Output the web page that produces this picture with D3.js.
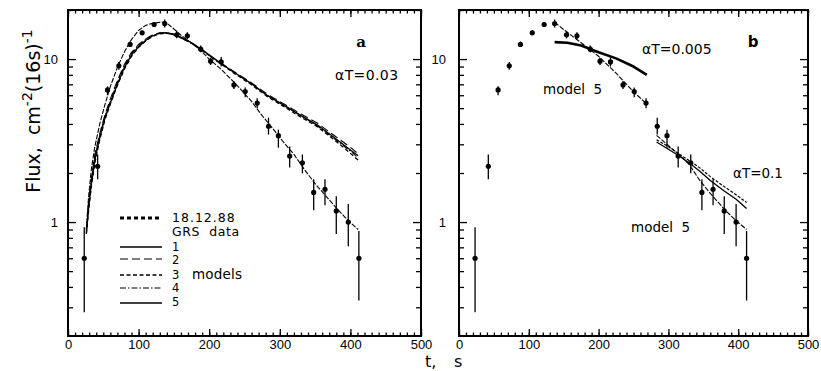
<!DOCTYPE html>
<html><head><meta charset="utf-8">
<script src="https://cdn.jsdelivr.net/npm/d3@7"></script>
<style>
html,body{margin:0;padding:0;background:#fff;}
svg{display:block;}
text{fill:#000;}
</style></head>
<body>
<svg id="chart" width="821" height="371"></svg>
<script>
// ---------- DATA ----------
// 18.12.88 GRS data (time, s ; flux, cm^-2 (16 s)^-1)
const dataT    = [23, 42, 56, 72, 88, 105, 122, 137, 154, 169, 188, 202, 217, 235, 251, 268, 284, 298, 314, 332, 348, 364, 380, 397, 412];
const dataFlux = [0.60, 2.2, 6.47, 9.1, 12.3, 14.5, 16.3, 16.5, 14.1, 13.9, 11.5, 9.7, 9.6, 6.94, 6.32, 5.37, 3.87, 3.39, 2.54, 2.31, 1.52, 1.59, 1.17, 1.0, 0.60];
const dataLo   = [0.28, 1.83, 6.0, 8.6, 11.9, 14.0, 15.8, 15.6, 13.4, 13.2, 11.0, 9.2, 9.0, 6.55, 5.84, 5.0, 3.44, 2.86, 2.16, 1.99, 1.18, 1.27, 0.845, 0.71, 0.33];
const dataHi   = [0.93, 2.6, 6.8, 9.6, 12.8, 15.0, 16.8, 17.5, 14.9, 14.6, 12.1, 10.2, 10.3, 7.34, 6.7, 5.75, 4.37, 3.69, 2.91, 2.60, 1.83, 1.83, 1.44, 1.29, 0.88];

// panel a: models 1-4 (alpha T = 0.03)
const modelT   = [26, 29, 33, 38, 45, 52, 60, 70, 80, 90, 100, 110, 120, 130, 140, 150, 160, 175, 190, 211, 235, 259, 282, 306, 330, 353, 377, 401, 411];
const model1   = [0.85, 1.2, 1.7, 2.4, 3.3, 4.3, 5.4, 7.0, 8.9, 10.6, 11.9, 13.0, 13.9, 14.4, 14.5, 14.2, 13.6, 12.6, 11.4, 9.8, 8.3, 7.1, 6.0, 5.2, 4.5, 3.95, 3.3, 2.75, 2.55];
const model2   = [0.9, 1.3, 1.85, 2.6, 3.5, 4.5, 5.7, 7.4, 9.3, 11.0, 12.3, 13.3, 14.1, 14.5, 14.5, 14.2, 13.6, 12.6, 11.4, 9.8, 8.4, 7.2, 6.1, 5.3, 4.6, 4.05, 3.4, 2.85, 2.62];
const model3   = [0.85, 1.15, 1.65, 2.3, 3.2, 4.2, 5.3, 6.9, 8.7, 10.4, 11.8, 12.9, 13.8, 14.3, 14.4, 14.1, 13.5, 12.5, 11.3, 9.7, 8.2, 7.0, 5.9, 5.1, 4.4, 3.85, 3.2, 2.62, 2.4];
const model4   = [0.88, 1.25, 1.8, 2.5, 3.4, 4.4, 5.5, 7.2, 9.1, 10.8, 12.1, 13.2, 14.0, 14.4, 14.4, 14.1, 13.5, 12.5, 11.3, 9.7, 8.3, 7.1, 6.0, 5.2, 4.5, 3.9, 3.25, 2.7, 2.48];
// panel a: model 5
const model5T  = [26, 29, 33, 38, 45, 52, 60, 70, 80, 90, 100, 110, 120, 130, 138, 150, 160, 170, 185, 200, 215, 230, 245, 260, 275, 290, 305, 320, 335, 350, 365, 380, 395, 411];
const model5   = [0.9, 1.4, 2.1, 2.9, 4.0, 5.2, 6.8, 8.9, 11.1, 13.2, 15.0, 16.1, 16.6, 16.8, 16.9, 15.3, 14.0, 13.0, 11.6, 10.0, 8.8, 7.6, 6.5, 5.5, 4.5, 3.75, 3.1, 2.6, 2.1, 1.72, 1.45, 1.22, 1.04, 0.9];

// panel b: first fit segment
const seg1T      = [137, 155, 175, 200, 225, 250, 269];
const seg1Alpha  = [12.7, 12.6, 12.1, 11.0, 10.1, 9.0, 8.0];      // alpha T = 0.005
const seg1Model5 = [16.8, 14.6, 12.6, 10.4, 8.2, 6.3, 5.3];
// panel b: second fit segment
const seg2T      = [283, 300, 315, 330, 345, 360, 380, 397, 412];
const seg2AlphaA = [3.1, 2.8, 2.55, 2.3, 2.05, 1.8, 1.55, 1.38, 1.21]; // alpha T = 0.1
const seg2AlphaB = [3.2, 2.9, 2.62, 2.38, 2.15, 1.9, 1.65, 1.47, 1.32];
const seg2Model5 = [3.4, 2.95, 2.6, 2.25, 1.8, 1.5, 1.2, 1.02, 0.9];

const xMajor = [0, 100, 200, 300, 400, 500];
const xMinor = d3.range(0, 501, 10);
const yMajor = [1, 10];
const yMinor = [0.3, 0.4, 0.5, 0.6, 0.7, 0.8, 0.9, 2, 3, 4, 5, 6, 7, 8, 9, 20];

// ---------- DRAW ----------
const svg = d3.select("#chart");
const FONT = "'DejaVu Sans', sans-serif";
const TFONT = "'Liberation Sans', Arial, sans-serif";

function makePanel(x0, x1, labelPad) {
  const x = d3.scaleLinear().domain([0, 500]).range([x0, x1]);
  const y = d3.scaleLog().domain([0.2, 20]).range([336, 10]);
  const g = svg.append("g");
  const yb = y(0.2), yt = y(20);

  function ax(axis, tx, ty) {
    const a = g.append("g").attr("transform", `translate(${tx},${ty})`).call(axis);
    a.select(".domain").remove();
    a.selectAll("line").attr("stroke", "#000").attr("stroke-width", 1.3);
    a.selectAll("text").attr("font-family", TFONT).attr("font-size", 13).attr("fill", "#000");
    return a;
  }
  // bottom
  ax(d3.axisBottom(x).tickValues(xMinor).tickSize(-3.5).tickFormat(""), 0, yb);
  ax(d3.axisBottom(x).tickValues(xMajor).tickSize(-7).tickPadding(4).tickFormat(d3.format("d")), 0, yb);
  // top
  ax(d3.axisTop(x).tickValues(xMinor).tickSize(-3.5).tickFormat(""), 0, yt);
  ax(d3.axisTop(x).tickValues(xMajor).tickSize(-7).tickFormat(""), 0, yt);
  // left
  ax(d3.axisLeft(y).tickValues(yMinor).tickSize(-5).tickFormat(""), x0, 0);
  ax(d3.axisLeft(y).tickValues(yMajor).tickSize(-8).tickPadding(labelPad).tickFormat(d3.format("d")), x0, 0);
  // right
  ax(d3.axisRight(y).tickValues(yMinor).tickSize(-5).tickFormat(""), x1, 0);
  ax(d3.axisRight(y).tickValues(yMajor).tickSize(-8).tickFormat(""), x1, 0);

  g.append("rect").attr("x", x0).attr("y", yt).attr("width", x1 - x0).attr("height", yb - yt)
    .attr("fill", "none").attr("stroke", "#000").attr("stroke-width", 2);
  return {g, x, y};
}

function curve(p, ts, vs, width, dash) {
  const line = d3.line().x((d, i) => p.x(ts[i])).y(d => p.y(d));
  p.g.append("path").attr("d", line(vs)).attr("fill", "none").attr("stroke", "#000")
    .attr("stroke-width", width).attr("stroke-dasharray", dash || null).attr("stroke-linejoin", "round");
}

function points(p) {
  const pts = dataT.map((t, i) => ({t, f: dataFlux[i], lo: dataLo[i], hi: dataHi[i]}));
  p.g.selectAll(null).data(pts).enter().append("line")
    .attr("x1", d => p.x(d.t)).attr("x2", d => p.x(d.t))
    .attr("y1", d => p.y(d.lo)).attr("y2", d => p.y(d.hi))
    .attr("stroke", "#000").attr("stroke-width", 1.3);
  p.g.selectAll(null).data(pts).enter().append("circle")
    .attr("cx", d => p.x(d.t)).attr("cy", d => p.y(d.f)).attr("r", 2.6).attr("fill", "#000");
}

function txt(x, y, s, size, opts = {}) {
  const t = svg.append("text").attr("x", x).attr("y", y).attr("font-family", opts.family || FONT)
    .attr("font-size", size).attr("font-weight", opts.weight || "normal")
    .attr("text-anchor", opts.anchor || "start").text(s);
  if (opts.ls) t.attr("letter-spacing", opts.ls);
  return t;
}

// Panel a
const pa = makePanel(68, 421, 10);
curve(pa, modelT, model1, 1.3);
curve(pa, modelT, model2, 1.1, "8,4");
curve(pa, modelT, model3, 1.3, "4,2.5");
curve(pa, modelT, model4, 1.1, "6,2,1.5,2");
curve(pa, model5T, model5, 1.1, "5,1.5");
points(pa);

// Panel b
const pb = makePanel(459, 808, 13);
points(pb);
curve(pb, seg1T, seg1Alpha, 2.6);
curve(pb, seg1T, seg1Model5, 1.1, "5,1.5");
curve(pb, seg2T, seg2AlphaA, 1.3);
curve(pb, seg2T, seg2AlphaB, 1.2, "3,1.5");
curve(pb, seg2T, seg2Model5, 1.1, "5,1.5");

// Legend (panel a)
const legend = [
  {y: 218, w: 3, dash: "4,3"},
  {y: 247, w: 1.3, dash: null},
  {y: 259, w: 1.1, dash: "8,4"},
  {y: 275, w: 1.5, dash: "4,2.5"},
  {y: 288, w: 1.2, dash: "6,2,1.5,2"},
  {y: 303, w: 1.3, dash: null}
];
svg.selectAll(null).data(legend).enter().append("line")
  .attr("x1", 120).attr("x2", 162).attr("y1", d => d.y).attr("y2", d => d.y)
  .attr("stroke", "#000").attr("stroke-width", d => d.w).attr("stroke-dasharray", d => d.dash);
txt(172, 222, "18.12.88", 12.5, {ls: 1});
txt(172, 236, "GRS\u00a0 data", 12.5, {ls: 0.6});
txt(172, 251, "1", 11.5);
txt(172, 264, "2", 11.5);
txt(172, 279, "3", 11.5);
txt(192, 279, "models", 13.5, {ls: 0.2});
txt(172, 292, "4", 11.5);
txt(172, 306, "5", 11.5);

// Annotations
txt(361, 47, "a", 15, {weight: "bold", anchor: "middle", family: "'DejaVu Serif', serif"});
txt(753, 47, "b", 15, {weight: "bold", anchor: "middle"});
txt(335, 80, "\u03b1T=0.03", 14, {ls: 0.4});
txt(642, 54, "\u03b1T=0.005", 14);
txt(543, 94, "model\u00a0 5", 13.5);
txt(733, 178, "\u03b1T=0.1", 13.5);
txt(631, 232, "model\u00a0 5", 13.5);

// Axis titles
const yl = svg.append("text").attr("transform", "translate(40,111) rotate(-90)")
  .attr("font-family", FONT).attr("font-size", 19).attr("text-anchor", "middle");
yl.append("tspan").text("Flux,\u00a0 cm");
yl.append("tspan").attr("dy", -8).attr("font-size", 14).text("-2");
yl.append("tspan").attr("dy", 8).text("(16s)");
yl.append("tspan").attr("dy", -8).attr("font-size", 14).text("-1");
txt(425, 367, "t,", 16);
txt(454, 367, "s", 16);
</script>
</body></html>
